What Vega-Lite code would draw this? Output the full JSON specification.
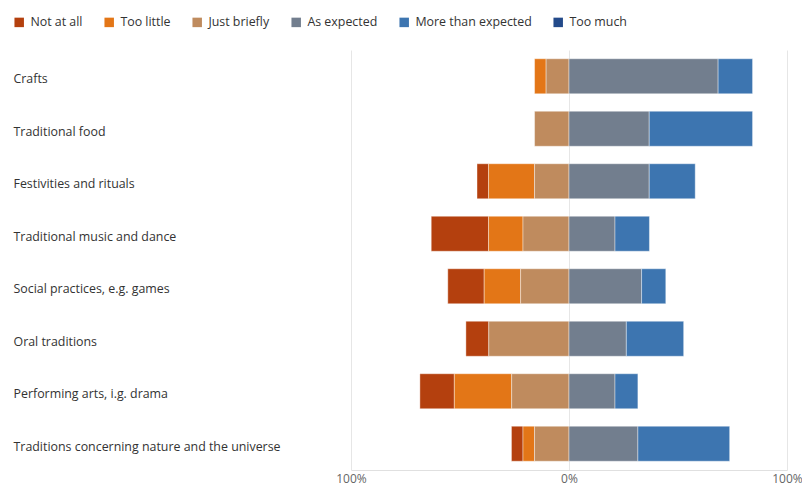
{
  "$schema": "https://vega.github.io/schema/vega-lite/v6.json",
  "width": 436,
  "height": 420,
  "autosize": {"type": "none"},
  "padding": {"left": 351, "top": 50, "right": 15, "bottom": 16},
  "background": "white",
  "config": {"view": {"stroke": null}, "font": "Open Sans"},
  "data": {
    "values": [
      {"category": "Crafts", "response": "Too little", "pct": 5.3},
      {"category": "Crafts", "response": "Just briefly", "pct": 10.5},
      {"category": "Crafts", "response": "As expected", "pct": 68.4},
      {"category": "Crafts", "response": "More than expected", "pct": 15.8},
      {"category": "Traditional food", "response": "Just briefly", "pct": 15.8},
      {"category": "Traditional food", "response": "As expected", "pct": 36.8},
      {"category": "Traditional food", "response": "More than expected", "pct": 47.4},
      {"category": "Festivities and rituals", "response": "Not at all", "pct": 5.3},
      {"category": "Festivities and rituals", "response": "Too little", "pct": 21.1},
      {"category": "Festivities and rituals", "response": "Just briefly", "pct": 15.8},
      {"category": "Festivities and rituals", "response": "As expected", "pct": 36.8},
      {"category": "Festivities and rituals", "response": "More than expected", "pct": 21.1},
      {"category": "Traditional music and dance", "response": "Not at all", "pct": 26.3},
      {"category": "Traditional music and dance", "response": "Too little", "pct": 15.8},
      {"category": "Traditional music and dance", "response": "Just briefly", "pct": 21.1},
      {"category": "Traditional music and dance", "response": "As expected", "pct": 21.1},
      {"category": "Traditional music and dance", "response": "More than expected", "pct": 15.8},
      {"category": "Social practices, e.g. games", "response": "Not at all", "pct": 16.7},
      {"category": "Social practices, e.g. games", "response": "Too little", "pct": 16.7},
      {"category": "Social practices, e.g. games", "response": "Just briefly", "pct": 22.2},
      {"category": "Social practices, e.g. games", "response": "As expected", "pct": 33.3},
      {"category": "Social practices, e.g. games", "response": "More than expected", "pct": 11.1},
      {"category": "Oral traditions", "response": "Not at all", "pct": 10.5},
      {"category": "Oral traditions", "response": "Just briefly", "pct": 36.8},
      {"category": "Oral traditions", "response": "As expected", "pct": 26.3},
      {"category": "Oral traditions", "response": "More than expected", "pct": 26.3},
      {"category": "Performing arts, i.g. drama", "response": "Not at all", "pct": 15.8},
      {"category": "Performing arts, i.g. drama", "response": "Too little", "pct": 26.3},
      {"category": "Performing arts, i.g. drama", "response": "Just briefly", "pct": 26.3},
      {"category": "Performing arts, i.g. drama", "response": "As expected", "pct": 21.1},
      {"category": "Performing arts, i.g. drama", "response": "More than expected", "pct": 10.5},
      {"category": "Traditions concerning nature and the universe", "response": "Not at all", "pct": 5.3},
      {"category": "Traditions concerning nature and the universe", "response": "Too little", "pct": 5.3},
      {"category": "Traditions concerning nature and the universe", "response": "Just briefly", "pct": 15.8},
      {"category": "Traditions concerning nature and the universe", "response": "As expected", "pct": 31.6},
      {"category": "Traditions concerning nature and the universe", "response": "More than expected", "pct": 42.1}
    ]
  },
  "transform": [
    {"calculate": "indexof(['Not at all','Too little','Just briefly'], datum.response) >= 0 ? -datum.pct : datum.pct", "as": "value"},
    {"calculate": "indexof(['Just briefly','Too little','Not at all','As expected','More than expected','Too much'], datum.response) % 3", "as": "rank"}
  ],
  "mark": {"type": "bar", "stroke": "white", "strokeOpacity": 0.4, "strokeWidth": 1},
  "encoding": {
    "y": {
      "field": "category",
      "type": "nominal",
      "sort": ["Crafts", "Traditional food", "Festivities and rituals", "Traditional music and dance", "Social practices, e.g. games", "Oral traditions", "Performing arts, i.g. drama", "Traditions concerning nature and the universe"],
      "scale": {"paddingInner": 0.333, "paddingOuter": 0.1667},
      "axis": {"title": null, "domain": false, "ticks": false, "tickSize": 0, "labelAlign": "left", "labelPadding": 338, "labelOffset": 3, "labelFontSize": 12.4, "labelColor": "#333333", "labelLimit": 0}
    },
    "x": {
      "field": "value",
      "type": "quantitative",
      "stack": "zero",
      "scale": {"domain": [-100, 100], "nice": false},
      "axis": {"title": null, "values": [-100, 0, 100], "labelExpr": "abs(datum.value) + '%'", "grid": true, "gridColor": "#e6e6e6", "domainColor": "#e0e0e0", "ticks": false, "tickSize": 0, "labelColor": "#666666", "labelFontSize": 12, "labelPadding": 3, "labelFlush": false}
    },
    "color": {
      "field": "response",
      "type": "nominal",
      "scale": {
        "domain": ["Not at all", "Too little", "Just briefly", "As expected", "More than expected", "Too much"],
        "range": ["#B4400E", "#E37617", "#BF8B5E", "#727E8E", "#3D75B0", "#234A8A"]
      },
      "legend": {"title": null, "orient": "none", "legendX": -338, "legendY": -34, "direction": "horizontal", "symbolType": "square", "symbolSize": 90, "symbolStrokeWidth": 0, "labelFontSize": 12.4, "labelColor": "#333333", "columnPadding": 20, "labelOffset": 5}
    },
    "order": {"field": "rank", "type": "quantitative"}
  }
}
